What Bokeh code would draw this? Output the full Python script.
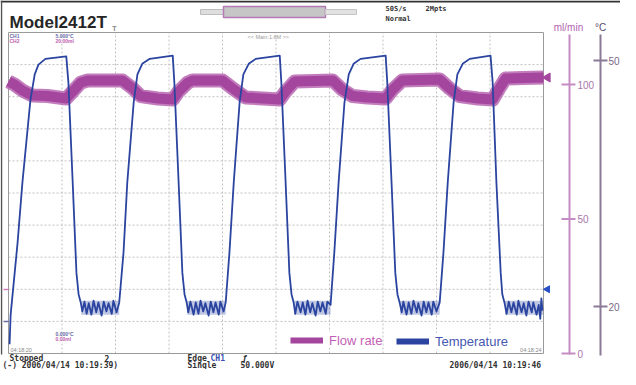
import numpy as np
from bokeh.plotting import figure
from bokeh.models import Range1d, Legend, LegendItem
from bokeh.core.properties import value
from bokeh.embed import file_html
from bokeh.resources import INLINE

# ---------------- data ----------------
# time in oscilloscope divisions (10 div record)
flow_t = [0.0, 0.11, 0.26, 0.45, 0.73, 1.08, 1.20, 1.35, 1.48, 2.13, 2.32, 2.47, 2.79, 3.07,
          3.18, 3.35, 3.44, 4.00, 4.22, 4.43, 4.75, 5.07, 5.18, 5.35, 6.06, 6.24, 6.43, 6.71,
          7.05, 7.18, 7.36, 8.06, 8.24, 8.43, 8.77, 9.05, 9.16, 9.29, 9.61, 10.0]
# flow rate, ml/min
flow_v = [101.1, 100.0, 97.8, 95.9, 95.7, 94.8, 97.4, 100.7, 101.5, 101.5, 98.6, 95.7, 94.8, 94.4,
          97.4, 100.7, 101.5, 101.5, 98.1, 95.2, 94.8, 94.4, 97.4, 101.1, 101.5, 98.1, 95.7, 95.2,
          94.8, 98.1, 101.5, 101.9, 98.6, 95.7, 94.8, 94.4, 98.1, 102.2, 102.4, 102.6]

temp_t = ([0.02, 0.04, 0.17, 0.26, 0.41, 0.49, 0.56, 0.69, 1.08, 1.12, 1.20, 1.27, 1.31, 1.35]
          + [1.38, 1.42, 1.46, 1.50, 1.55, 1.59, 1.64, 1.68, 1.74, 1.78, 1.83, 1.87, 1.93, 1.96, 2.02, 2.07]
          + [2.15, 2.22, 2.34, 2.41, 2.50, 2.64, 3.07, 3.10, 3.18, 3.25, 3.29, 3.33]
          + [3.36, 3.40, 3.46, 3.50, 3.55, 3.59, 3.64, 3.68, 3.74, 3.78, 3.83, 3.87, 3.93, 3.96, 4.02, 4.06]
          + [4.13, 4.21, 4.32, 4.39, 4.49, 4.62, 5.07, 5.10, 5.18, 5.25, 5.29, 5.33]
          + [5.36, 5.40, 5.46, 5.50, 5.55, 5.59, 5.64, 5.68, 5.74, 5.78, 5.83, 5.87, 5.93, 5.96, 6.02]
          + [6.09, 6.17, 6.28, 6.36, 6.45, 6.58, 7.05, 7.08, 7.16, 7.23, 7.27, 7.31]
          + [7.35, 7.38, 7.44, 7.48, 7.53, 7.57, 7.63, 7.66, 7.72, 7.76, 7.81, 7.85, 7.91, 7.94, 8.00, 8.06]
          + [8.13, 8.21, 8.32, 8.39, 8.49, 8.62, 9.01, 9.05, 9.12, 9.20, 9.23, 9.27]
          + [9.31, 9.35, 9.40, 9.44, 9.50, 9.53, 9.59, 9.63, 9.68, 9.72, 9.78, 9.81, 9.87, 9.91, 9.94, 9.96, 9.98])
# temperature, deg C
temp_v = ([15.4, 19.0, 27.8, 35.1, 45.2, 48.3, 49.5, 50.2, 50.5, 47.3, 35.1, 24.1, 21.5, 20.5]
          + [19.4, 20.6, 19.1, 20.4, 19.0, 20.7, 19.3, 20.5, 18.9, 20.6, 19.4, 20.4, 19.1, 20.7, 19.3, 20.5]
          + [26.6, 35.1, 44.9, 48.3, 49.6, 50.2, 50.6, 47.3, 35.1, 24.1, 21.5, 20.5]
          + [19.3, 20.6, 19.0, 20.5, 19.1, 20.7, 19.4, 20.4, 18.9, 20.6, 19.3, 20.5, 19.0, 20.6, 19.4, 20.5]
          + [26.6, 35.1, 44.9, 48.3, 49.6, 50.2, 50.6, 47.3, 35.1, 24.1, 21.5, 20.5]
          + [19.1, 20.6, 19.3, 20.5, 19.0, 20.7, 19.3, 20.4, 18.9, 20.6, 19.4, 20.5, 19.1, 20.6, 20.2]
          + [26.6, 35.1, 44.9, 48.3, 49.6, 50.2, 50.6, 47.3, 35.1, 24.1, 21.5, 20.5]
          + [19.3, 20.6, 19.0, 20.5, 19.1, 20.7, 19.3, 20.4, 18.9, 20.6, 19.3, 20.5, 19.0, 20.6, 19.4, 20.5]
          + [26.6, 35.1, 44.9, 48.3, 49.6, 50.2, 50.6, 47.3, 35.1, 24.1, 21.5, 20.5]
          + [19.1, 20.6, 19.3, 20.5, 19.0, 20.7, 19.3, 20.4, 18.9, 20.6, 19.3, 20.5, 19.0, 20.2, 18.5, 21.0, 19.5])
assert len(temp_t) == len(temp_v) and len(flow_t) == len(flow_v)

# noise envelope of the temperature low plateaus (start, end in div; low/high in deg C)
noise_start = [1.36, 3.34, 5.34, 7.32, 9.28]
noise_end = [2.07, 4.06, 6.02, 8.06, 9.99]
noise_lo = [19.0, 19.0, 19.0, 19.0, 19.0]
noise_hi = [20.7, 20.7, 20.7, 20.7, 20.7]

flow_ticks = [0, 50, 100]
temp_ticks = [20, 50]
grid_x = list(range(0, 11))
grid_y = list(range(0, 11))
flow_marker_level = 102.6
temp_marker_level = 22.1

# ---------------- layout helpers (page pixels -> plot units) ----------------
W, H = 620, 369
def dx(px): return (px - 16.0) / 53.5
def dy(py): return (361.0 - py) / 32.1
def fy(py): return (361.0 - py) / 2.69
def ty(py): return 20.0 + (314.0 - py) / 8.2

FLOW_C = "#a5469e"
FLOW_FUZZ = "#bb6fb6"
TEMP_C = "#2a44a0"
SANS = "Liberation Sans"
MONO = "DejaVu Sans Mono"

p = figure(width=W, height=H, x_range=Range1d(dx(8), dx(628)), y_range=Range1d(dy(377), dy(8)),
           output_backend="svg", toolbar_location=None, x_axis_location=None, y_axis_location=None,
           min_border=0, min_border_left=0, min_border_right=0, min_border_top=0, min_border_bottom=0,
           outline_line_color=None, background_fill_color="white", border_fill_color="white")
p.grid.visible = False
p.extra_y_ranges = {"flow": Range1d(fy(377), fy(8)), "temp": Range1d(ty(377), ty(8))}

def txt(xp, yp, s, size, color="#333333", font=SANS, style="normal", align="left", baseline="middle"):
    p.text(x=[dx(xp)], y=[dy(yp)], text=[s], text_font=value(font), text_font_size=value(size),
           text_color=color, text_font_style=style, text_align=align, text_baseline=baseline)

# outer frame (top and left)
p.segment(x0=[dx(8)], x1=[dx(628)], y0=[dy(9)], y1=[dy(9)], line_color="#333333", line_width=2)
p.segment(x0=[dx(9)], x1=[dx(9)], y0=[dy(8)], y1=[dy(362)], line_color="#555555", line_width=1.5)

# oscilloscope grid
inner_x = grid_x[1:-1]
inner_y = grid_y[1:-1]
p.segment(x0=inner_x, x1=inner_x, y0=[grid_y[0]] * len(inner_x), y1=[grid_y[-1]] * len(inner_x),
          line_color="#c2c2c2", line_width=1, line_dash="2 2")
p.segment(x0=[grid_x[0]] * len(inner_y), x1=[grid_x[-1]] * len(inner_y), y0=inner_y, y1=inner_y,
          line_color="#c2c2c2", line_width=1, line_dash="2 2")
p.quad(left=[grid_x[0]], right=[grid_x[-1]], bottom=[grid_y[0]], top=[grid_y[-1]],
       fill_color=None, line_color="#9a9a9a", line_width=1)

# header
txt(17, 30, "Model2412T", "17px", "#262626", SANS, "bold", baseline="alphabetic")
p.quad(left=[dx(208)], right=[dx(231)], bottom=[dy(22)], top=[dy(17)], fill_color="#dedede", line_color="#bdbdbd")
p.quad(left=[dx(231)], right=[dx(333)], bottom=[dy(25)], top=[dy(14)], fill_color="#c6c6c6",
       line_color="#b57ab5", line_width=1.5)
p.quad(left=[dx(333)], right=[dx(364)], bottom=[dy(22)], top=[dy(17)], fill_color="#e2e2e2", line_color="#c4c4c4")
txt(393, 16, "50S/s", "7px", "#333333", MONO, "bold")
txt(433, 16, "2Mpts", "7px", "#333333", MONO, "bold")
txt(393, 26, "Normal", "7px", "#333333", MONO, "bold")
txt(122, 36, "T", "7px", "#888888", SANS, "bold", align="center")
txt(255, 44, "<< Main:1.6M >>", "5.5px", "#9a9a9a", SANS)
txt(17, 43, "CH1", "5px", "#6a6aa8", SANS, "bold")
txt(17, 48, "CH2", "5px", "#c060b0", SANS, "bold")
txt(63, 43, "5.000°C", "5px", "#6a6aa8", SANS, "bold")
txt(63, 48, "20.00ml", "5px", "#c060b0", SANS, "bold")
txt(63, 341, "0.000°C", "5px", "#6a6aa8", SANS, "bold")
txt(63, 346, "0.00ml", "5px", "#c060b0", SANS, "bold")
txt(18, 357, "04:18:20", "5.5px", "#888888", SANS)
txt(549, 357, "04:18:24", "5.5px", "#888888", SANS, align="right")

# left ground markers
p.segment(x0=[dx(11)], x1=[dx(16)], y0=[dy(297)], y1=[dy(297)], line_color="#d47cc0", line_width=1.5)
p.segment(x0=[dx(11)], x1=[dx(16)], y0=[dy(329)], y1=[dy(329)], line_color="#6a6aa8", line_width=1.5)

# data traces
p.line(flow_t, flow_v, y_range_name="flow", line_color=FLOW_FUZZ, line_width=14, line_join="round", line_alpha=0.9)
p.line(flow_t, flow_v, y_range_name="flow", line_color=FLOW_C, line_width=10, line_join="round")
p.quad(left=noise_start, right=noise_end, bottom=noise_lo, top=noise_hi, y_range_name="temp",
       fill_color=TEMP_C, fill_alpha=0.3, line_color=None)
p.line(temp_t, temp_v, y_range_name="temp", line_color=TEMP_C, line_width=1.8, line_join="round")

# channel level markers at right edge of screen
p.scatter(x=[dx(555)], y=[flow_marker_level], y_range_name="flow", marker="triangle", size=9,
          angle=np.pi / 2, fill_color=FLOW_C, line_color=FLOW_C)
p.scatter(x=[dx(555)], y=[temp_marker_level], y_range_name="temp", marker="triangle", size=7,
          angle=np.pi / 2, fill_color="#2a50c8", line_color="#2a50c8")

# right axis: flow rate (ml/min)
FAX = "#c58cc4"
p.segment(x0=[dx(577)], x1=[dx(577)], y0=[fy(362)], y1=[fy(42)], y_range_name="flow", line_color=FAX, line_width=2)
p.segment(x0=[dx(569)] * len(flow_ticks), x1=[dx(583)] * len(flow_ticks), y0=flow_ticks, y1=flow_ticks,
          y_range_name="flow", line_color=FAX, line_width=2)
p.text(x=[dx(585)] * len(flow_ticks), y=flow_ticks, text=[str(v) for v in flow_ticks], y_range_name="flow",
       text_font=value(SANS), text_font_size=value("10px"), text_color="#a878a8", text_baseline="middle")
txt(576, 35, "ml/min", "10px", "#b35fb0", SANS, align="center")

# right axis: temperature (°C)
TAX = "#8a7a96"
p.segment(x0=[dx(608)], x1=[dx(608)], y0=[ty(363)], y1=[ty(42)], y_range_name="temp", line_color=TAX, line_width=2)
p.segment(x0=[dx(601)] * len(temp_ticks), x1=[dx(615)] * len(temp_ticks), y0=temp_ticks, y1=temp_ticks,
          y_range_name="temp", line_color=TAX, line_width=2)
p.text(x=[dx(616)] * len(temp_ticks), y=temp_ticks, text=[str(v) for v in temp_ticks], y_range_name="temp",
       text_font=value(SANS), text_font_size=value("10px"), text_color="#7a6a86", text_baseline="middle")
txt(608, 35, "°C", "10px", "#5a4a6a", SANS, align="center")

# status line at the bottom
txt(17, 366, "Stopped", "8px", "#333333", MONO, "bold")
txt(112, 366, "2", "8px", "#333333", MONO, "bold")
txt(195, 366, "Edge", "8px", "#333333", MONO, "bold")
txt(218, 366, "CH1", "8px", "#3a50b0", MONO, "bold")
txt(250, 365, "ƒ", "9px", "#333333", SANS, "bold")
txt(10, 373, "(-) 2006/04/14 10:19:39)", "8px", "#333333", MONO, "bold")
txt(195, 373, "Single", "8px", "#333333", MONO, "bold")
txt(248, 373, "50.000V", "8px", "#333333", MONO, "bold")
txt(457, 373, "2006/04/14 10:19:46", "8px", "#333333", MONO, "bold")

# legend (two separate legends so that each label keeps its own colour)
nan1 = np.array([np.nan])
leg_flow = p.line(nan1, nan1, line_color=FLOW_C, line_width=6)
leg_temp = p.line(nan1, nan1, line_color=TEMP_C, line_width=6)
for r, lab, col, loc in [(leg_flow, "Flow rate", "#c45fb6", (290, 21)), (leg_temp, "Temperature", "#4658b0", (396, 20))]:
    lg = Legend(items=[LegendItem(label=lab, renderers=[r])], location=loc, orientation="horizontal",
                label_text_color=col, label_text_font=SANS, label_text_font_size="13px",
                glyph_width=33, glyph_height=16, label_height=16, label_standoff=6, padding=2, margin=0,
                border_line_color=None, background_fill_color="white", background_fill_alpha=1.0)
    p.add_layout(lg)

open("out.html", "w").write(file_html(p, INLINE))
